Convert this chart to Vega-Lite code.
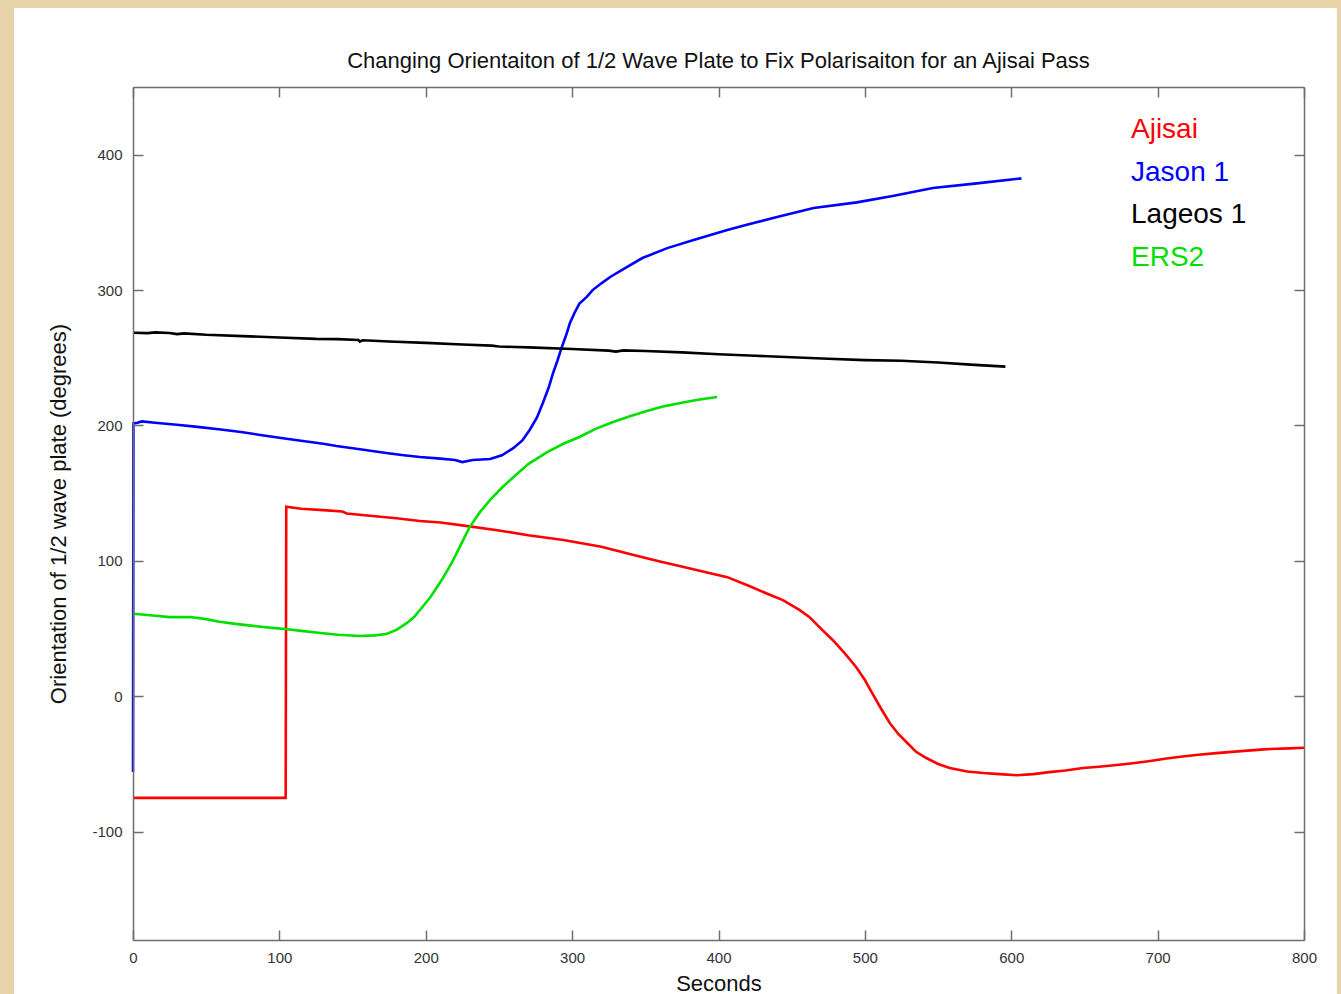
{
  "$schema": "https://vega.github.io/schema/vega-lite/v6.json",
  "width": 1171,
  "height": 853,
  "autosize": "none",
  "padding": {"left": 133, "top": 87, "right": 37, "bottom": 54},
  "background": "#e7d2aa",
  "config": {
    "view": {"stroke": null},
    "font": "Liberation Sans",
    "axis": {
      "domainColor": "#6e6e6e",
      "domainWidth": 1.5,
      "tickColor": "#6e6e6e",
      "tickWidth": 1.5,
      "tickSize": -10,
      "grid": false,
      "labelFont": "Liberation Sans",
      "labelFontSize": 15,
      "labelColor": "#333333",
      "labelExpr": "'' + datum.value",
      "titleFont": "Liberation Sans",
      "titleFontSize": 22,
      "titleFontWeight": "normal",
      "titleColor": "#111111"
    }
  },
  "title": {
    "text": "Changing Orientaiton of 1/2 Wave Plate to Fix Polarisaiton for an Ajisai Pass",
    "fontSize": 22,
    "fontWeight": "normal",
    "font": "Liberation Sans",
    "color": "#111111",
    "anchor": "middle",
    "frame": "group",
    "baseline": "alphabetic",
    "offset": 0,
    "dy": 82,
    "zindex": 2
  },
  "datasets": {
    "panel": [{"panel": "white"}],
    "series": [
      {"sat": "Ajisai", "s": 0, "v": -75},
      {"sat": "Ajisai", "s": 104.3, "v": -75},
      {"sat": "Ajisai", "s": 104.7, "v": 140},
      {"sat": "Ajisai", "s": 115, "v": 138.5},
      {"sat": "Ajisai", "s": 130, "v": 137.5},
      {"sat": "Ajisai", "s": 143, "v": 136.5},
      {"sat": "Ajisai", "s": 146, "v": 135},
      {"sat": "Ajisai", "s": 160, "v": 133.5},
      {"sat": "Ajisai", "s": 180, "v": 131.5},
      {"sat": "Ajisai", "s": 196, "v": 129.5},
      {"sat": "Ajisai", "s": 210, "v": 128.3},
      {"sat": "Ajisai", "s": 230, "v": 125.5},
      {"sat": "Ajisai", "s": 250, "v": 122.5},
      {"sat": "Ajisai", "s": 270, "v": 119},
      {"sat": "Ajisai", "s": 294, "v": 115.4},
      {"sat": "Ajisai", "s": 320, "v": 110.5},
      {"sat": "Ajisai", "s": 342, "v": 104.3},
      {"sat": "Ajisai", "s": 360, "v": 99.5},
      {"sat": "Ajisai", "s": 374, "v": 96},
      {"sat": "Ajisai", "s": 390, "v": 92},
      {"sat": "Ajisai", "s": 406, "v": 88},
      {"sat": "Ajisai", "s": 421, "v": 81.4},
      {"sat": "Ajisai", "s": 435, "v": 75},
      {"sat": "Ajisai", "s": 444, "v": 71},
      {"sat": "Ajisai", "s": 455, "v": 64},
      {"sat": "Ajisai", "s": 462, "v": 58.6},
      {"sat": "Ajisai", "s": 470, "v": 50},
      {"sat": "Ajisai", "s": 478, "v": 41.6},
      {"sat": "Ajisai", "s": 486, "v": 32},
      {"sat": "Ajisai", "s": 494, "v": 21.6},
      {"sat": "Ajisai", "s": 500, "v": 12},
      {"sat": "Ajisai", "s": 505, "v": 2.4},
      {"sat": "Ajisai", "s": 511, "v": -9},
      {"sat": "Ajisai", "s": 517, "v": -19.7},
      {"sat": "Ajisai", "s": 523, "v": -28},
      {"sat": "Ajisai", "s": 529, "v": -34.5},
      {"sat": "Ajisai", "s": 535, "v": -41},
      {"sat": "Ajisai", "s": 542, "v": -45.6},
      {"sat": "Ajisai", "s": 550, "v": -50},
      {"sat": "Ajisai", "s": 558, "v": -53},
      {"sat": "Ajisai", "s": 570, "v": -55.5},
      {"sat": "Ajisai", "s": 581, "v": -56.7},
      {"sat": "Ajisai", "s": 592, "v": -57.5},
      {"sat": "Ajisai", "s": 604, "v": -58.3},
      {"sat": "Ajisai", "s": 615, "v": -57.5},
      {"sat": "Ajisai", "s": 626, "v": -56},
      {"sat": "Ajisai", "s": 637, "v": -54.8},
      {"sat": "Ajisai", "s": 649, "v": -53},
      {"sat": "Ajisai", "s": 660, "v": -52},
      {"sat": "Ajisai", "s": 672, "v": -50.8},
      {"sat": "Ajisai", "s": 683, "v": -49.5},
      {"sat": "Ajisai", "s": 695, "v": -47.8},
      {"sat": "Ajisai", "s": 706, "v": -46},
      {"sat": "Ajisai", "s": 717, "v": -44.5},
      {"sat": "Ajisai", "s": 728, "v": -43.2},
      {"sat": "Ajisai", "s": 740, "v": -42},
      {"sat": "Ajisai", "s": 757, "v": -40.5},
      {"sat": "Ajisai", "s": 775, "v": -39},
      {"sat": "Ajisai", "s": 790, "v": -38.5},
      {"sat": "Ajisai", "s": 800, "v": -38},
      {"sat": "Jason 1", "s": 0, "v": -56},
      {"sat": "Jason 1", "s": 0.3, "v": 201.5},
      {"sat": "Jason 1", "s": 3, "v": 202},
      {"sat": "Jason 1", "s": 6, "v": 203},
      {"sat": "Jason 1", "s": 15, "v": 202},
      {"sat": "Jason 1", "s": 30, "v": 200.5},
      {"sat": "Jason 1", "s": 44, "v": 199},
      {"sat": "Jason 1", "s": 60, "v": 197},
      {"sat": "Jason 1", "s": 75, "v": 195},
      {"sat": "Jason 1", "s": 87, "v": 193},
      {"sat": "Jason 1", "s": 100, "v": 191},
      {"sat": "Jason 1", "s": 116, "v": 188.5},
      {"sat": "Jason 1", "s": 130, "v": 186.5},
      {"sat": "Jason 1", "s": 139, "v": 184.8},
      {"sat": "Jason 1", "s": 155, "v": 182.5},
      {"sat": "Jason 1", "s": 173, "v": 179.7},
      {"sat": "Jason 1", "s": 185, "v": 178},
      {"sat": "Jason 1", "s": 196, "v": 176.7},
      {"sat": "Jason 1", "s": 210, "v": 175.5},
      {"sat": "Jason 1", "s": 220, "v": 174.5},
      {"sat": "Jason 1", "s": 225, "v": 173},
      {"sat": "Jason 1", "s": 232, "v": 174.5},
      {"sat": "Jason 1", "s": 244, "v": 175.2},
      {"sat": "Jason 1", "s": 252, "v": 178},
      {"sat": "Jason 1", "s": 260, "v": 183.4},
      {"sat": "Jason 1", "s": 266, "v": 189},
      {"sat": "Jason 1", "s": 271, "v": 196.7},
      {"sat": "Jason 1", "s": 276, "v": 206},
      {"sat": "Jason 1", "s": 280, "v": 216.6},
      {"sat": "Jason 1", "s": 284, "v": 228},
      {"sat": "Jason 1", "s": 287, "v": 238.8},
      {"sat": "Jason 1", "s": 290, "v": 248},
      {"sat": "Jason 1", "s": 293, "v": 258},
      {"sat": "Jason 1", "s": 296, "v": 267},
      {"sat": "Jason 1", "s": 298.5, "v": 275.7},
      {"sat": "Jason 1", "s": 302, "v": 284},
      {"sat": "Jason 1", "s": 305, "v": 290},
      {"sat": "Jason 1", "s": 310, "v": 295},
      {"sat": "Jason 1", "s": 314, "v": 300},
      {"sat": "Jason 1", "s": 320, "v": 305},
      {"sat": "Jason 1", "s": 326, "v": 309.7},
      {"sat": "Jason 1", "s": 335, "v": 315.5},
      {"sat": "Jason 1", "s": 348, "v": 323.7},
      {"sat": "Jason 1", "s": 365, "v": 331},
      {"sat": "Jason 1", "s": 383, "v": 337},
      {"sat": "Jason 1", "s": 406, "v": 344.4},
      {"sat": "Jason 1", "s": 420, "v": 348.5},
      {"sat": "Jason 1", "s": 440, "v": 354},
      {"sat": "Jason 1", "s": 465, "v": 360.6},
      {"sat": "Jason 1", "s": 494.5, "v": 364.8},
      {"sat": "Jason 1", "s": 519, "v": 369.5},
      {"sat": "Jason 1", "s": 546.5, "v": 375.4},
      {"sat": "Jason 1", "s": 576.5, "v": 378.8},
      {"sat": "Jason 1", "s": 607, "v": 382.5},
      {"sat": "Lageos 1", "s": 0, "v": 268.5},
      {"sat": "Lageos 1", "s": 10, "v": 268.2},
      {"sat": "Lageos 1", "s": 15, "v": 268.8},
      {"sat": "Lageos 1", "s": 25, "v": 268.3},
      {"sat": "Lageos 1", "s": 30, "v": 267.5},
      {"sat": "Lageos 1", "s": 35, "v": 268},
      {"sat": "Lageos 1", "s": 50, "v": 267},
      {"sat": "Lageos 1", "s": 75, "v": 266},
      {"sat": "Lageos 1", "s": 100, "v": 265},
      {"sat": "Lageos 1", "s": 125, "v": 264},
      {"sat": "Lageos 1", "s": 140, "v": 263.8},
      {"sat": "Lageos 1", "s": 154, "v": 263.2},
      {"sat": "Lageos 1", "s": 155, "v": 262},
      {"sat": "Lageos 1", "s": 157, "v": 263},
      {"sat": "Lageos 1", "s": 175, "v": 262},
      {"sat": "Lageos 1", "s": 200, "v": 261},
      {"sat": "Lageos 1", "s": 225, "v": 259.8},
      {"sat": "Lageos 1", "s": 245, "v": 259},
      {"sat": "Lageos 1", "s": 250, "v": 258.3},
      {"sat": "Lageos 1", "s": 275, "v": 257.5},
      {"sat": "Lageos 1", "s": 300, "v": 256.5},
      {"sat": "Lageos 1", "s": 325, "v": 255.3},
      {"sat": "Lageos 1", "s": 330, "v": 254.6},
      {"sat": "Lageos 1", "s": 335, "v": 255.5},
      {"sat": "Lageos 1", "s": 350, "v": 255},
      {"sat": "Lageos 1", "s": 375, "v": 254},
      {"sat": "Lageos 1", "s": 400, "v": 252.6},
      {"sat": "Lageos 1", "s": 425, "v": 251.5},
      {"sat": "Lageos 1", "s": 450, "v": 250.4},
      {"sat": "Lageos 1", "s": 475, "v": 249.3},
      {"sat": "Lageos 1", "s": 500, "v": 248.3},
      {"sat": "Lageos 1", "s": 525, "v": 247.8},
      {"sat": "Lageos 1", "s": 550, "v": 246.5},
      {"sat": "Lageos 1", "s": 575, "v": 244.8},
      {"sat": "Lageos 1", "s": 596, "v": 243.5},
      {"sat": "ERS2", "s": 0, "v": 61},
      {"sat": "ERS2", "s": 10, "v": 60},
      {"sat": "ERS2", "s": 25, "v": 58.5},
      {"sat": "ERS2", "s": 39, "v": 58.5},
      {"sat": "ERS2", "s": 50, "v": 57},
      {"sat": "ERS2", "s": 59, "v": 55},
      {"sat": "ERS2", "s": 70, "v": 53.5},
      {"sat": "ERS2", "s": 82, "v": 52},
      {"sat": "ERS2", "s": 95, "v": 50.5},
      {"sat": "ERS2", "s": 104, "v": 49.7},
      {"sat": "ERS2", "s": 115, "v": 48.3},
      {"sat": "ERS2", "s": 128, "v": 46.7},
      {"sat": "ERS2", "s": 140, "v": 45.5},
      {"sat": "ERS2", "s": 155, "v": 44.5},
      {"sat": "ERS2", "s": 165, "v": 45},
      {"sat": "ERS2", "s": 173, "v": 46},
      {"sat": "ERS2", "s": 180, "v": 49},
      {"sat": "ERS2", "s": 187, "v": 54},
      {"sat": "ERS2", "s": 192, "v": 58.5},
      {"sat": "ERS2", "s": 196, "v": 63.7},
      {"sat": "ERS2", "s": 203, "v": 73},
      {"sat": "ERS2", "s": 211, "v": 86},
      {"sat": "ERS2", "s": 218, "v": 99},
      {"sat": "ERS2", "s": 224, "v": 112},
      {"sat": "ERS2", "s": 230, "v": 125},
      {"sat": "ERS2", "s": 237, "v": 136},
      {"sat": "ERS2", "s": 244, "v": 145},
      {"sat": "ERS2", "s": 252, "v": 154},
      {"sat": "ERS2", "s": 260, "v": 162},
      {"sat": "ERS2", "s": 270, "v": 171.5},
      {"sat": "ERS2", "s": 283, "v": 180.4},
      {"sat": "ERS2", "s": 294, "v": 186.5},
      {"sat": "ERS2", "s": 305, "v": 191.5},
      {"sat": "ERS2", "s": 316, "v": 197.5},
      {"sat": "ERS2", "s": 328, "v": 202.6},
      {"sat": "ERS2", "s": 340, "v": 207},
      {"sat": "ERS2", "s": 351, "v": 210.7},
      {"sat": "ERS2", "s": 362, "v": 214},
      {"sat": "ERS2", "s": 374, "v": 216.6},
      {"sat": "ERS2", "s": 386, "v": 219},
      {"sat": "ERS2", "s": 399, "v": 221}
    ]
  },
  "resolve": {"axis": {"x": "independent", "y": "independent"}},
  "layer": [
    {
      "data": {"name": "panel"},
      "mark": {"type": "rect", "fill": "#ffffff", "clip": false},
      "encoding": {
        "x": {"datum": -81.3, "type": "quantitative", "scale": {"domain": [0, 800], "nice": false, "zero": false}, "axis": null},
        "x2": {"datum": 822.5},
        "y": {"datum": 508.3, "type": "quantitative", "scale": {"domain": [-180, 450], "nice": false, "zero": false}, "axis": null},
        "y2": {"datum": -219.9}
      }
    },
    {
      "data": {"name": "series"},
      "mark": {"type": "line", "strokeWidth": 2.6},
      "encoding": {
        "x": {
          "field": "s", "type": "quantitative",
          "scale": {"domain": [0, 800], "nice": false, "zero": false},
          "axis": {"orient": "bottom", "zindex": 2, "title": "Seconds", "values": [0, 100, 200, 300, 400, 500, 600, 700, 800], "labelPadding": 20, "titleBaseline": "alphabetic", "titleY": 50, "labelFlush": false}
        },
        "y": {
          "field": "v", "type": "quantitative",
          "scale": {"domain": [-180, 450], "nice": false, "zero": false},
          "axis": {"orient": "left", "zindex": 2, "title": "Orientation of 1/2 wave plate (degrees)", "values": [-100, 0, 100, 200, 300, 400], "labelPadding": 21, "titleX": -75, "titleBaseline": "middle", "labelBaseline": "middle"}
        },
        "color": {
          "field": "sat", "type": "nominal",
          "scale": {"domain": ["Ajisai", "Jason 1", "Lageos 1", "ERS2"], "range": ["#ff0000", "#0000ff", "#000000", "#00e000"]},
          "legend": {
            "title": null,
            "orient": "none",
            "legendX": 970,
            "legendY": 29,
            "zindex": 2,
            "symbolSize": 0,
            "symbolOpacity": 0,
            "symbolStrokeWidth": 0,
            "labelOffset": 0,
            "labelFontSize": 28,
            "labelFont": "Liberation Sans",
            "labelLimit": 300,
            "rowPadding": 14.5,
            "padding": 0,
            "encode": {"labels": {"update": {"fill": {"scale": "color", "field": "value"}}}}
          }
        }
      }
    },
    {
      "data": {"name": "series"},
      "mark": {"type": "point", "opacity": 0},
      "encoding": {
        "x": {
          "field": "s", "type": "quantitative",
          "scale": {"domain": [0, 800], "nice": false, "zero": false},
          "axis": {"orient": "top", "zindex": 2, "title": null, "labels": false, "values": [0, 100, 200, 300, 400, 500, 600, 700, 800]}
        },
        "y": {
          "field": "v", "type": "quantitative",
          "scale": {"domain": [-180, 450], "nice": false, "zero": false},
          "axis": {"orient": "right", "zindex": 2, "title": null, "labels": false, "values": [-100, 0, 100, 200, 300, 400]}
        }
      }
    }
  ]
}
